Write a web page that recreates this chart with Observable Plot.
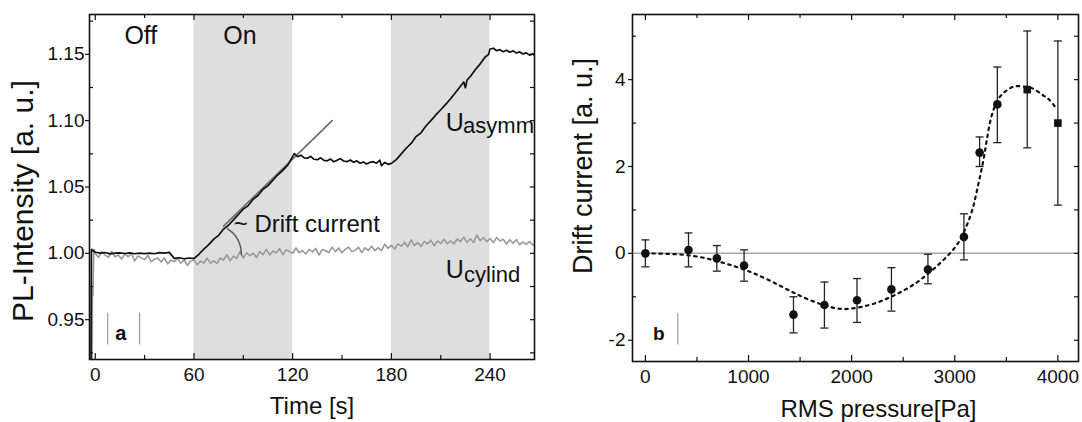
<!DOCTYPE html>
<html>
<head>
<meta charset="utf-8">
<script src="https://cdn.jsdelivr.net/npm/d3@7"></script>
<script src="https://cdn.jsdelivr.net/npm/@observablehq/plot@0.6"></script>
<style>
  html, body { margin: 0; padding: 0; background: #fff; }
  #wrap { display: flex; width: 1082px; height: 422px; }
  svg { display: block; }
</style>
</head>
<body>
<div id="wrap"></div>
<script>
// ---------- Panel a data ----------
const timeAsymm = [-2.6,-2.3,0,3,6,9,12,15,18,21,24,27,30,33,36,39,42,45,46.5,48,51,54,57,60,
  63,66,69,72,75,78,81,84,87,90,93,96,99,102,105,108,111,114,117,119,121,
  123,125,127,129,131,133,135,137,139,141,143,145,147,149,151,153,155,157,159,161,163,165,167,169,171,173,174,176,178,180,
  183,186,189,192,195,198,201,204,207,210,213,216,219,222,224,225,226,228,231,234,237,239,240,
  242,244,246,248,250,252,254,256,258,260,262,264,266,267];
const plAsymm = [0.915,1.003,1.0008,1.0002,1.0006,0.9996,1.0001,1.0004,0.9999,1.0003,0.9997,1.0001,0.9998,1.0002,0.9997,1.0005,1.0002,1.0007,0.9985,0.9962,0.9967,0.9959,0.9965,0.9961,
  0.9993,1.0032,1.0066,1.0107,1.0136,1.0183,1.0212,1.0252,1.0293,1.0334,1.0360,1.0407,1.0438,1.0483,1.0510,1.0551,1.0592,1.0625,1.0665,1.0708,1.0752,
  1.0728,1.0740,1.0719,1.0717,1.0731,1.0709,1.0706,1.0720,1.0701,1.0697,1.0711,1.0690,1.0701,1.0714,1.0696,1.0691,1.0704,1.0687,1.0697,1.0679,1.0689,1.0674,1.0686,1.0691,1.0679,1.0702,1.0660,1.0685,1.0671,1.0678,
  1.0706,1.0750,1.0792,1.0828,1.0880,1.0908,1.0960,1.1000,1.1043,1.1082,1.1123,1.1165,1.1212,1.1260,1.1292,1.1248,1.1306,1.1333,1.1383,1.1428,1.1480,1.1498,1.1540,
  1.1546,1.1527,1.1535,1.1520,1.1531,1.1516,1.1526,1.1510,1.1518,1.1503,1.1511,1.1494,1.1503,1.1492];

const timeCylind = [-1.9,-1.7,-1.4,-1.1,-0.8,0,2,4,6,8,10,12,14,16,18,20,22,24,26,28,30,32,34,36,38,40,42,44,46,48,50,52,54,56,58,60,
  62,64,66,68,70,72,74,76,78,80,82,84,86,88,90,92,94,96,98,100,102,104,106,108,110,112,114,116,118,120,
  122,124,126,128,130,132,134,136,138,140,142,144,146,148,150,152,154,156,158,160,162,164,166,168,170,172,174,176,178,180,
  182,184,186,188,190,192,194,196,198,200,202,204,206,208,210,212,214,216,218,220,222,224,226,228,230,232,234,236,238,240,
  242,244,246,248,250,252,254,256,258,260,262,264,266,267];
const plCylind = [0.915,0.975,0.968,0.990,1.003,
  1.0000,0.9969,1.0013,0.9987,0.9971,1.0015,0.9974,0.9988,0.9957,0.9996,0.9975,0.9997,0.9943,0.9980,0.9966,0.9953,0.9984,0.9936,0.9957,0.9964,0.9935,0.9965,0.9920,0.9949,0.9938,0.9962,0.9926,0.9950,0.9909,0.9943,0.9950,
  0.9915,0.9941,0.9927,0.9964,0.9926,0.9943,0.9925,0.9965,0.9950,0.9990,0.9944,0.9979,0.9963,1.0013,0.9965,1.0004,0.9982,1.0001,0.9969,1.0013,0.9991,1.0030,0.9988,1.0017,1.0005,1.0035,0.9990,1.0025,1.0015,1.0000,
  1.0040,1.0005,1.0020,0.9995,1.0030,1.0011,1.0037,0.9988,1.0029,1.0020,1.0006,1.0047,1.0013,1.0039,1.0005,1.0031,1.0047,1.0013,1.0024,1.0045,1.0006,1.0042,1.0023,1.0054,1.0020,1.0043,1.0021,1.0069,1.0037,1.0060,
  1.0033,1.0071,1.0054,1.0082,1.0050,1.0102,1.0059,1.0081,1.0053,1.0090,1.0072,1.0099,1.0056,1.0093,1.0075,1.0107,1.0073,1.0095,1.0072,1.0108,1.0090,1.0122,1.0083,1.0110,1.0082,1.0138,1.0095,1.0119,1.0088,1.0112,
  1.0081,1.0120,1.0093,1.0106,1.0070,1.0103,1.0076,1.0103,1.0066,1.0084,1.0067,1.0089,1.0062,1.0070];

const onStart = [60, 180];
const onEnd = [120, 240];
const tangentT = [78, 144];
const tangentPL = [1.0205, 1.100];
const arcT = [80.4, 84.0, 86.8, 88.4, 88.9];
const arcPL = [1.0185, 1.0150, 1.0100, 1.0045, 0.9990];

const timeMajor = [0, 60, 120, 180, 240];
const timeMinor = [30, 90, 150, 210];
const plMajor = [0.95, 1.00, 1.05, 1.10, 1.15];
const plMinor = [0.925, 0.975, 1.025, 1.075, 1.125, 1.175];

// ---------- Panel b data ----------
const pressure = [0, 418, 693, 957, 1436, 1736, 2052, 2386, 2740, 3089, 3241, 3413, 3703, 4000];
const drift    = [0, 0.076, -0.115, -0.28, -1.41, -1.19, -1.08, -0.83, -0.37, 0.38, 2.32, 3.43, 3.77, 3.0];
const driftHi  = [0.31, 0.47, 0.18, 0.08, -1.0, -0.66, -0.58, -0.33, -0.02, 0.91, 2.68, 4.29, 5.12, 4.89];
const driftLo  = [-0.31, -0.31, -0.41, -0.64, -1.83, -1.72, -1.59, -1.33, -0.70, -0.15, 2.0, 2.55, 2.43, 1.11];
const markerShape = ["circle","circle","circle","circle","circle","circle","circle","circle","circle","circle","circle","circle","square","square"];

const fitP = [0, 200, 400, 600, 800, 1000, 1200, 1400, 1600, 1800, 1900, 2000, 2200, 2400, 2600, 2800, 3000, 3100, 3170, 3220, 3270, 3310, 3350, 3400, 3450, 3520, 3600, 3700, 3770, 3850, 3900, 3950, 3990];
const fitD = [0, -0.01, -0.04, -0.12, -0.25, -0.41, -0.62, -0.86, -1.08, -1.24, -1.28, -1.27, -1.17, -0.98, -0.72, -0.35, 0.13, 0.55, 1.0, 1.5, 2.05, 2.6, 3.1, 3.45, 3.64, 3.78, 3.85, 3.83, 3.78, 3.65, 3.57, 3.45, 3.3];

const pMajor = [0, 1000, 2000, 3000, 4000];
const pMinor = [500, 1500, 2500, 3500];
const dMajor = [-2, 0, 2, 4];
const dMinor = [-1, 1, 3, 5];

// ---------- Tables ----------
const asymm = timeAsymm.map((t, i) => ({t, v: plAsymm[i]}));
const cylind = timeCylind.map((t, i) => ({t, v: plCylind[i]}));
const onPeriods = onStart.map((s, i) => ({s, e: onEnd[i]}));
const tangent = tangentT.map((t, i) => ({t, v: tangentPL[i]}));
const arc = arcT.map((t, i) => ({t, v: arcPL[i]}));
const pts = pressure.map((p, i) => ({p, d: drift[i], hi: driftHi[i], lo: driftLo[i], shape: markerShape[i]}));
const fit = fitP.map((p, i) => ({p, d: fitD[i]}));

const FONT = "'Liberation Sans', Arial, Helvetica, sans-serif";
const INK = "#111";

const capSymbol = {
  draw(ctx, size) {
    const r = Math.sqrt(size / Math.PI);
    ctx.moveTo(-r, 0);
    ctx.lineTo(r, 0);
  }
};

// ---------- Panel a ----------
const A = {w: 560, h: 422, ml: 89, mr: 26, mt: 14, mb: 63};
const aIW = A.w - A.ml - A.mr, aIH = A.h - A.mt - A.mb;

const plotA = Plot.plot({
  width: A.w, height: A.h,
  marginLeft: A.ml, marginRight: A.mr, marginTop: A.mt, marginBottom: A.mb,
  x: {domain: [-3.5, 267]},
  y: {domain: [0.92, 1.18]},
  style: {fontFamily: FONT, fontSize: "19px", color: INK, background: "white", overflow: "visible"},
  marks: [
    Plot.rect(onPeriods, {x1: "s", x2: "e", fill: "#dedede"}),
    Plot.line(cylind, {x: "t", y: "v", stroke: "#999999", strokeWidth: 1.6, clip: true}),
    Plot.line(tangent, {x: "t", y: "v", stroke: "#6a6a6a", strokeWidth: 1.6}),
    Plot.line(asymm, {x: "t", y: "v", stroke: "#111", strokeWidth: 1.7, clip: true}),
    Plot.line(arc, {x: "t", y: "v", stroke: "#5a5a5a", strokeWidth: 1.5, curve: "natural"}),
    // ticks
    Plot.tickX(timeMajor, {x: d => d, insetTop: aIH - 6, stroke: INK, strokeWidth: 1.2}),
    Plot.tickX(timeMinor, {x: d => d, insetTop: aIH - 4, stroke: INK, strokeWidth: 1.2}),
    Plot.tickX(timeMajor, {x: d => d, insetBottom: aIH - 6, stroke: INK, strokeWidth: 1.2}),
    Plot.tickX(timeMinor, {x: d => d, insetBottom: aIH - 4, stroke: INK, strokeWidth: 1.2}),
    Plot.tickY(plMinor, {y: d => d, insetRight: aIW - 4, stroke: INK, strokeWidth: 1.2}),
    Plot.tickY(plMajor.concat(plMinor), {y: d => d, insetLeft: aIW - 4, stroke: INK, strokeWidth: 1.2}),
    Plot.axisX({ticks: timeMajor, tickSize: 0, tickPadding: 7.5, tickFormat: d3.format("d"), label: null, fontSize: 19}),
    Plot.axisY({ticks: plMajor, tickSize: 4, tickPadding: 1, tickFormat: d3.format(".2f"), label: null, fontSize: 19, strokeWidth: 1.2}),
    Plot.frame({stroke: INK, strokeWidth: 1.6}),
    // annotations
    Plot.text([{t: 27.7, v: 1.1637, s: "Off"}, {t: 88, v: 1.1637, s: "On"}], {x: "t", y: "v", text: "s", fontSize: 25, fill: INK}),
    Plot.text([{t: 84.2, v: 1.022, s: "~ Drift current"}], {x: "t", y: "v", text: "s", textAnchor: "start", fontSize: 24, fill: INK}),
    Plot.text([{t: 213, v: 1.0984, s: "U"}, {t: 213, v: 0.9873, s: "U"}], {x: "t", y: "v", text: "s", textAnchor: "start", fontSize: 25, fill: INK}),
    Plot.text([{t: 223.6, v: 1.0962, s: "asymm"}, {t: 224.2, v: 0.9838, s: "cylind"}], {x: "t", y: "v", text: "s", textAnchor: "start", fontSize: 22, fill: INK}),
    Plot.text([{t: 15.5, v: 0.9397, s: "a"}], {x: "t", y: "v", text: "s", fontSize: 20, fontWeight: "bold", fill: INK}),
    Plot.ruleX([7.6, 27], {x: d => d, y1: 0.931, y2: 0.955, stroke: "#888", strokeWidth: 1}),
    // axis titles
    Plot.text(["Time [s]"], {frameAnchor: "bottom", dy: 47, text: d => d, textAnchor: "middle", lineAnchor: "middle", fontSize: 24, fill: INK}),
    Plot.text(["PL-Intensity [a. u.]"], {frameAnchor: "left", dx: -66, dy: 14, rotate: -90, text: d => d, textAnchor: "middle", lineAnchor: "middle", fontSize: 30, fill: INK})
  ]
});

// ---------- Panel b ----------
const B = {w: 522, h: 422, ml: 72, mr: 4, mt: 14, mb: 61};
const bIW = B.w - B.ml - B.mr, bIH = B.h - B.mt - B.mb;

const plotB = Plot.plot({
  width: B.w, height: B.h,
  marginLeft: B.ml, marginRight: B.mr, marginTop: B.mt, marginBottom: B.mb,
  x: {domain: [-125, 4200]},
  y: {domain: [-2.49, 5.5]},
  style: {fontFamily: FONT, fontSize: "19px", color: INK, background: "white", overflow: "visible"},
  marks: [
    Plot.ruleY([0], {stroke: "#a8a8a8", strokeWidth: 1.5}),
    Plot.line(fit, {x: "p", y: "d", stroke: "#111", strokeWidth: 2.2, strokeDasharray: "2.5,4.5", curve: "natural"}),
    Plot.ruleX(pts, {x: "p", y1: "lo", y2: "hi", stroke: "#222", strokeWidth: 1.3}),
    Plot.dot(pts, {x: "p", y: "hi", symbol: capSymbol, r: 4, stroke: "#222", strokeWidth: 1.3}),
    Plot.dot(pts, {x: "p", y: "lo", symbol: capSymbol, r: 4, stroke: "#222", strokeWidth: 1.3}),
    Plot.dot(pts, {x: "p", y: "d", symbol: "shape", r: 4.3, fill: "#111", stroke: "none"}),
    // ticks
    Plot.tickX(pMajor, {x: d => d, insetTop: bIH - 6, stroke: INK, strokeWidth: 1.2}),
    Plot.tickX(pMinor, {x: d => d, insetTop: bIH - 4, stroke: INK, strokeWidth: 1.2}),
    Plot.tickX(pMajor, {x: d => d, insetBottom: bIH - 6, stroke: INK, strokeWidth: 1.2}),
    Plot.tickX(pMinor, {x: d => d, insetBottom: bIH - 4, stroke: INK, strokeWidth: 1.2}),
    Plot.tickY(dMinor, {y: d => d, insetRight: bIW - 4, stroke: INK, strokeWidth: 1.2}),
    Plot.tickY(dMajor.concat(dMinor), {y: d => d, insetLeft: bIW - 4, stroke: INK, strokeWidth: 1.2}),
    Plot.axisX({ticks: pMajor, tickSize: 0, tickPadding: 7.5, tickFormat: d3.format("d"), label: null, fontSize: 19}),
    Plot.axisY({ticks: dMajor, tickSize: 4, tickPadding: 3, tickFormat: d => String(d), label: null, fontSize: 19, strokeWidth: 1.2}),
    Plot.frame({stroke: INK, strokeWidth: 1.6}),
    Plot.text([{p: 131, d: -1.855, s: "b"}], {x: "p", y: "d", text: "s", fontSize: 19, fontWeight: "bold", fill: INK}),
    Plot.ruleX([315], {x: d => d, y1: -2.11, y2: -1.39, stroke: "#888", strokeWidth: 1}),
    Plot.text(["RMS pressure[Pa]"], {frameAnchor: "bottom", dx: 23, dy: 48, text: d => d, textAnchor: "middle", lineAnchor: "middle", fontSize: 24, fill: INK}),
    Plot.text(["Drift current [a. u.]"], {frameAnchor: "left", dx: -49, dy: -22, rotate: -90, text: d => d, textAnchor: "middle", lineAnchor: "middle", fontSize: 27, fill: INK})
  ]
});

const wrap = document.getElementById("wrap");
wrap.appendChild(plotA);
wrap.appendChild(plotB);
</script>
</body>
</html>
